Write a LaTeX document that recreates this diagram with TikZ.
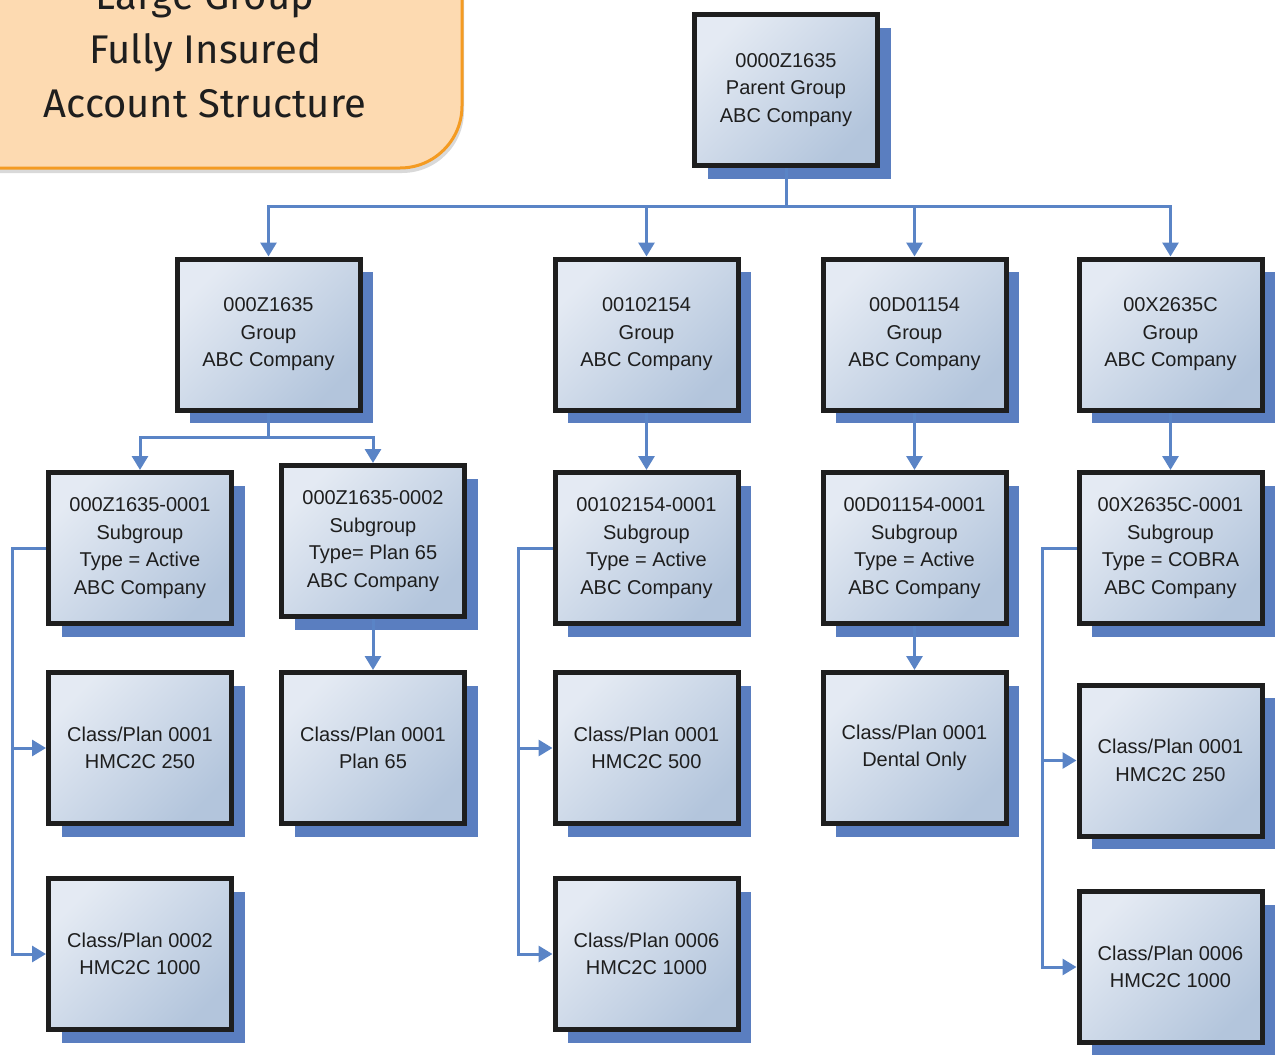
\documentclass[tikz,border=0pt]{standalone}
\usepackage{fontspec}
\setmainfont{Liberation Sans}
\newfontfamily\titlefont{Fira Sans}
\usetikzlibrary{arrows.meta,shadows}
\definecolor{boxlight}{HTML}{E4EAF3}
\definecolor{boxdark}{HTML}{B3C5DC}
\definecolor{shadowblue}{HTML}{5A7EC0}
\definecolor{linkblue}{HTML}{5A84C6}
\definecolor{peach}{HTML}{FDDAB1}
\definecolor{titleorange}{HTML}{F49B22}
\definecolor{ink}{HTML}{1E1E1E}
\tikzset{
  box/.style={draw=ink, line width=5pt, minimum width=183pt, minimum height=151pt,
    top color=boxlight, bottom color=boxdark, shading angle=45,
    align=center, text=ink, font=\fontsize{20}{27.5}\selectfont,
    general shadow={fill=shadowblue, draw=none, shadow xshift=13pt, shadow yshift=-13pt}},
  link/.style={draw=linkblue, line width=3pt},
  arrow/.style={link, -{Triangle[width=16pt,length=14pt]}},
}
\begin{document}
\begin{tikzpicture}[x=1pt,y=-1pt]
    \useasboundingbox (0,0) rectangle (1280,1055);
    \draw[draw=titleorange, fill=peach, line width=3pt, rounded corners=62pt,
        general shadow={fill=black!15, draw=none, shadow xshift=2pt, shadow yshift=-5pt}]
        (-80,-80) rectangle (462,168);
    \node[font=\titlefont\fontsize{40}{54}\selectfont, text=ink, align=center] (title) at (205,50)
        {Large Group\\Fully Insured\\Account Structure};

    \node[box] (par) at (786,90) {0000Z1635\\Parent Group\\ABC Company};

    \node[box] (grpA) at (268.5,334.5) {000Z1635\\Group\\ABC Company};
    \node[box] (grpB) at (646.5,334.5) {00102154\\Group\\ABC Company};
    \node[box] (grpC) at (914.5,334.5) {00D01154\\Group\\ABC Company};
    \node[box] (grpD) at (1170.5,334.5) {00X2635C\\Group\\ABC Company};

    \node[box] (subA) at (140,548) {000Z1635-0001\\Subgroup\\Type = Active\\ABC Company};
    \node[box] (subA2) at (373,541) {000Z1635-0002\\Subgroup\\Type= Plan 65\\ABC Company};
    \node[box] (subB) at (646.5,548) {00102154-0001\\Subgroup\\Type = Active\\ABC Company};
    \node[box] (subC) at (914.5,548) {00D01154-0001\\Subgroup\\Type = Active\\ABC Company};
    \node[box] (subD) at (1170.5,548) {00X2635C-0001\\Subgroup\\Type = COBRA\\ABC Company};

    \node[box] (planA1) at (140,748) {Class/Plan 0001\\HMC2C 250};
    \node[box] (planA2) at (140,954) {Class/Plan 0002\\HMC2C 1000};
    \node[box] (planA3) at (373,748) {Class/Plan 0001\\Plan 65};
    \node[box] (planB1) at (646.5,748) {Class/Plan 0001\\HMC2C 500};
    \node[box] (planB2) at (646.5,954) {Class/Plan 0006\\HMC2C 1000};
    \node[box] (planC1) at (914.5,748) {Class/Plan 0001\\Dental Only};
    \node[box] (planD1) at (1170.5,760.5) {Class/Plan 0001\\HMC2C 250};
    \node[box] (planD2) at (1170.5,967) {Class/Plan 0006\\HMC2C 1000};

    \draw[link] (par.south) -- ++(0,38) coordinate (bus);
    \foreach \g in {grpA,grpB,grpC,grpD}
        \draw[arrow] (bus) -| (\g.north);
    \draw[link] (grpA.south) -- ++(0,25) coordinate (busA);
    \draw[arrow] (busA) -| (subA.north);
    \draw[arrow] (busA) -| (subA2.north);
    \draw[arrow] (grpB.south) -- (subB.north);
    \draw[arrow] (grpC.south) -- (subC.north);
    \draw[arrow] (grpD.south) -- (subD.north);
    \draw[arrow] (subA2.south) -- (planA3.north);
    \draw[arrow] (subC.south) -- (planC1.north);

    \draw[arrow] (subA.west) -- ++(-34,0) |- (planA1.west);
    \draw[arrow] (subA.west) -- ++(-34,0) |- (planA2.west);
    \draw[arrow] (subB.west) -- ++(-34,0) |- (planB1.west);
    \draw[arrow] (subB.west) -- ++(-34,0) |- (planB2.west);
    \draw[arrow] (subD.west) -- ++(-34,0) |- (planD1.west);
    \draw[arrow] (subD.west) -- ++(-34,0) |- (planD2.west);
\end{tikzpicture}
\end{document}
